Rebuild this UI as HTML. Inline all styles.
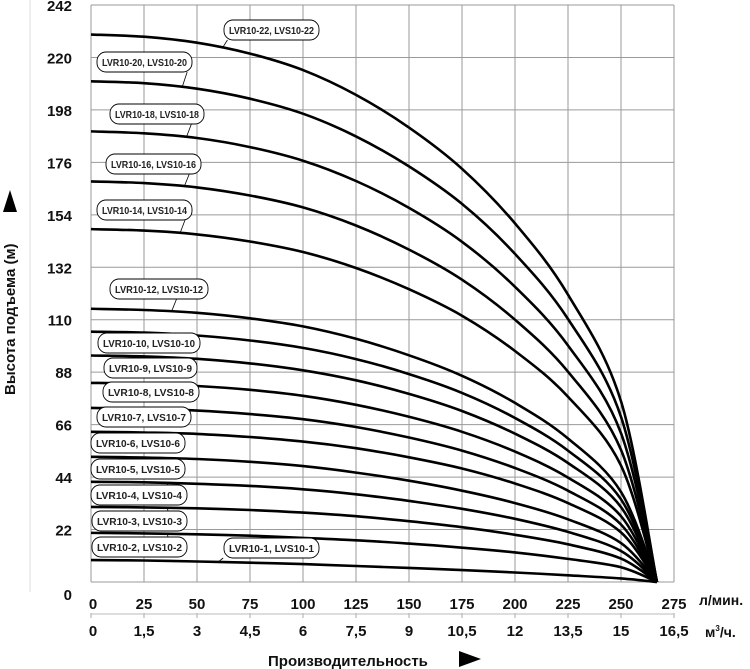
<!DOCTYPE html>
<html><head><meta charset="utf-8"><style>
body{margin:0;background:#fff;}
svg{display:block;font-family:"Liberation Sans",sans-serif;}
</style></head><body>
<svg id="chart" width="750" height="669" viewBox="0 0 750 669">
<g id="grid"></g>
<g id="curves"></g>
<g id="labels"></g>
<g id="axes"></g>
</svg>
<script>
const flowTicks = [0,25,50,75,100,125,150,175,200,225,250,275];
const m3Ticks = ["0","1,5","3","4,5","6","7,5","9","10,5","12","13,5","15","16,5"];
const headTicks = [0,22,44,66,88,110,132,154,176,198,220,242];
const flowPoints = [0,25,50,75,100,125,150,175,200,225,250,267];
const s22 = [229.6,228.7,226.2,221.6,214.7,204.3,190.6,173.3,150.4,120.5,75.8,0];
const s20 = [210,209.2,206.9,202.7,196.4,186.9,174.3,158.6,137.6,110.3,69.3,0];
const s18 = [189,188.2,186.2,182.4,176.7,168.2,156.9,142.7,123.8,99.2,62.4,0];
const s16 = [168,167.3,165.5,162.1,157.1,149.5,139.4,126.8,110,88.2,55.4,0];
const s14 = [148,147.4,145.8,142.8,138.4,131.7,122.8,111.7,96.9,77.7,48.8,0];
const s12 = [114.6,114.1,112.9,110.6,107.2,102,95.1,86.5,75.1,60.2,37.8,0];
const s10 = [105,104.6,103.4,101.3,98.2,93.5,87.2,79.3,68.8,55.1,34.7,0];
const s9 = [95,94.6,93.6,91.7,88.8,84.6,78.9,71.7,62.2,49.9,31.4,0];
const s8 = [83.5,83.2,82.2,80.6,78.1,74.3,69.3,63,54.7,43.8,27.6,0];
const s7 = [73,72.7,71.9,70.4,68.3,65,60.6,55.1,47.8,38.3,24.1,0];
const s6 = [63,62.7,62.1,60.8,58.9,56.1,52.3,47.6,41.3,33.1,20.8,0];
const s5 = [52.5,52.2,51.6,50.4,48.6,45.9,42.5,38.3,33.1,26.3,16.3,0];
const s4 = [42,41.8,41.2,40.3,38.9,36.8,34,30.7,26.5,21,13,0];
const s3 = [31.5,31.3,30.9,30.2,29.1,27.6,25.5,23,19.8,15.8,9.8,0];
const s2 = [20.6,20.4,20,19.4,18.5,17.5,16.1,14.4,12.4,9.7,6.2,0];
const s1 = [9.2,9,8.6,8.1,7.5,6.7,5.9,5,4,2.8,1.5,0];
const seriesNames = ["22","20","18","16","14","12","10","9","8","7","6","5","4","3","2","1"];
const seriesValues = [s22,s20,s18,s16,s14,s12,s10,s9,s8,s7,s6,s5,s4,s3,s2,s1];
const labelBoxes = [[224,20,95],[97,52,95],[110,104,94],[106,154,95],[97,200,95],[110,279,98],[98,333,102],[104,358,93],[103,382,96],[97,407,94],[91,433,94],[91,459,94],[91,485,96],[92,511,95],[92,537,95],[224,538,95]];
const leaderFlow = [62,43,45,44,42,38,40,37,38,35,34,34,36,36,36,60];

const NS="http://www.w3.org/2000/svg";
const X0=91,X1=674,Y0=582,Y1=5;
function xs(q){return X0+(q/275)*(X1-X0);}
function ys(h){return Y0-(h/242)*(Y0-Y1);}
function mk(tag,attrs,parent){const e=document.createElementNS(NS,tag);for(const k in attrs)e.setAttribute(k,attrs[k]);parent.appendChild(e);return e;}
function interp(vals,q){for(let i=0;i<flowPoints.length-1;i++){if(q<=flowPoints[i+1]){const t=(q-flowPoints[i])/(flowPoints[i+1]-flowPoints[i]);return vals[i]+t*(vals[i+1]-vals[i]);}}return vals[vals.length-1];}

const grid=document.getElementById('grid');
flowTicks.forEach(q=>{const l=mk('line',{x1:xs(q),x2:xs(q),y1:Y1,y2:Y0,stroke:'#9a9a9a','stroke-width':1},grid);

});
headTicks.forEach(h=>{const l=mk('line',{x1:X0,x2:X1,y1:ys(h),y2:ys(h),stroke:'#9a9a9a','stroke-width':1},grid);

});
const side=mk('line',{x1:30,x2:30,y1:0,y2:592,stroke:'#ddd','stroke-width':1},grid);



const curves=document.getElementById('curves');
seriesValues.forEach((vals,si)=>{
  const pts=flowPoints.map((q,i)=>[xs(q),ys(vals[i])]);
  let d='M'+pts[0][0]+','+pts[0][1];
  for(let i=0;i<pts.length-1;i++){
    const p0=pts[Math.max(0,i-1)],p1=pts[i],p2=pts[i+1],p3=pts[Math.min(pts.length-1,i+2)];
    const c1=[p1[0]+(p2[0]-p0[0])/6,p1[1]+(p2[1]-p0[1])/6];
    const c2=[p2[0]-(p3[0]-p1[0])/6,p2[1]-(p3[1]-p1[1])/6];
    d+=' C'+c1[0].toFixed(1)+','+c1[1].toFixed(1)+' '+c2[0].toFixed(1)+','+c2[1].toFixed(1)+' '+p2[0].toFixed(1)+','+p2[1].toFixed(1);
  }
  const p=mk('path',{d:d,fill:'none',stroke:'#000','stroke-width':2.6},curves);
  
  
});

const labels=document.getElementById('labels');
seriesNames.forEach((n,i)=>{
  const b=labelBoxes[i];
  const g=mk('g',{},labels);
  
  
  const lx=xs(leaderFlow[i]);const ly=ys(interp(seriesValues[i],leaderFlow[i]));
  mk('line',{x1:lx,y1:ly,x2:lx+5,y2:b[1]+20,stroke:'#000','stroke-width':0.8},g);
  mk('rect',{x:b[0],y:b[1],width:b[2],height:20,rx:9,ry:9,fill:'#fff',stroke:'#000','stroke-width':0.9},g);
  const t=mk('text',{x:b[0]+5,y:b[1]+14,'font-size':10.5,'font-weight':'bold',textLength:b[2]-10,lengthAdjust:'spacingAndGlyphs',fill:'#222'},g);
  t.textContent='LVR10-'+n+', LVS10-'+n;
});

const axes=document.getElementById('axes');
headTicks.forEach(h=>{
  const t=mk('text',{x:72,y:(h===0?600:ys(h)+6),'text-anchor':'end','font-size':15,'font-weight':'bold',fill:'#111'},axes);
  
  
  t.textContent=h;
});
flowTicks.forEach((q,i)=>{
  const t=mk('text',{x:xs(q)+(i===0?2:0),y:609,'text-anchor':'middle','font-size':15,'font-weight':'bold',fill:'#111'},axes);
  
  
  t.textContent=q;
  const tk=mk('line',{x1:xs(q),x2:xs(q),y1:613,y2:618,stroke:'#aaa','stroke-width':1},axes);
  
  
  const t2=mk('text',{x:xs(q)+(i===0?2:0),y:636,'text-anchor':'middle','font-size':15,'font-weight':'bold',fill:'#111'},axes);
  
  
  t2.textContent=m3Ticks[i];
});
const sep=mk('line',{x1:X0,x2:X1,y1:614,y2:614,stroke:'#bbb','stroke-width':1},axes);


</script>
<svg style="position:absolute;left:0;top:0" width="750" height="669">
<text x="699" y="605" font-size="14" font-weight="bold" fill="#111" font-family="Liberation Sans, sans-serif">л/мин.</text>
<text x="705" y="637" font-size="14" font-weight="bold" fill="#111" font-family="Liberation Sans, sans-serif">м<tspan font-size="8" dy="-6">3</tspan><tspan dy="6">/ч.</tspan></text>
<text x="268" y="666" font-size="15" font-weight="bold" fill="#111" font-family="Liberation Sans, sans-serif">Производительность</text>
<polygon points="459,651 481,659 459,667" fill="#000"/>
<text transform="translate(15,395) rotate(-90)" font-size="15" font-weight="bold" fill="#111" font-family="Liberation Sans, sans-serif">Высота подъема (м)</text>
<polygon points="3,212 10,190 17,212" fill="#000"/>
</svg>
</body></html>
